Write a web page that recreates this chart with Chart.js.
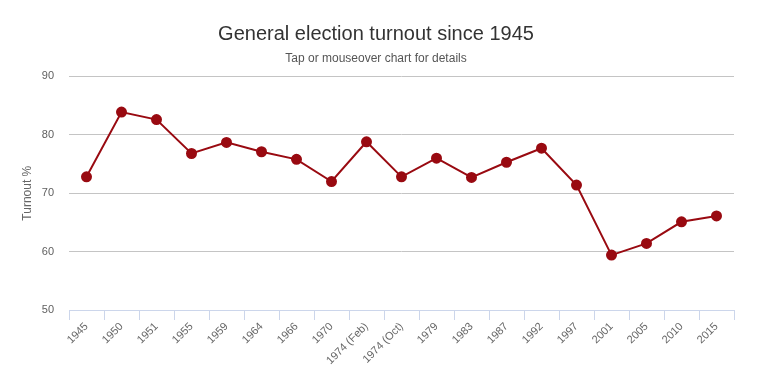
<!DOCTYPE html>
<html><head><meta charset="utf-8">
<script src="https://cdn.jsdelivr.net/npm/chart.js@4/dist/chart.umd.min.js"></script>
<style>html,body{margin:0;padding:0;background:#fff}#wrap{width:769px;height:379px}</style>
</head><body><div id="wrap"><canvas id="c" width="769" height="379"></canvas></div>
<script>
const categories = ["1945","1950","1951","1955","1959","1964","1966","1970","1974 (Feb)","1974 (Oct)","1979","1983","1987","1992","1997","2001","2005","2010","2015"];
const turnout = [72.8,83.9,82.6,76.8,78.7,77.1,75.8,72.0,78.8,72.8,76.0,72.7,75.3,77.7,71.4,59.4,61.4,65.1,66.1];
const yTicks = [50,60,70,80,90];
const FONT = "'Liberation Sans', Arial, Helvetica, sans-serif";

new Chart(document.getElementById('c'), {
  type: 'line',
  data: { labels: categories, datasets: [{
    label: 'Turnout %', data: turnout,
    borderColor: '#990a11', backgroundColor: '#990a11',
    borderWidth: 2, pointRadius: 4.5, pointHoverRadius: 5, tension: 0
  }]},
  options: {
    responsive: false, animation: false,
    layout: { padding: { left: 18, right: 35, top: 0, bottom: 0 } },
    plugins: {
      legend: { display: false },
      title: { display: true, text: 'General election turnout since 1945', color: '#333333',
        font: { family: FONT, size: 20, weight: 'normal' }, padding: { top: 22, bottom: 3 } },
      subtitle: { display: true, text: 'Tap or mouseover chart for details', color: '#555555',
        font: { family: FONT, size: 12, weight: 'normal' }, padding: { top: 2, bottom: 11 } }
    },
    scales: {
      x: {
        offset: true,
        grid: { offset: true, drawOnChartArea: false, drawTicks: true, tickLength: 10, color: '#ccd6eb' },
        border: { display: true, color: '#ccd6eb', width: 1 },
        ticks: { color: '#666666', font: { family: FONT, size: 11 }, minRotation: 45, maxRotation: 45, padding: 0, autoSkip: false },
        afterFit: s => { s.height = 69; }
      },
      y: {
        min: 50, max: 90,
        afterBuildTicks: s => { s.ticks = yTicks.map(v => ({ value: v })); },
        grid: { color: '#c4c4c4', drawTicks: false, lineWidth: 1 },
        border: { display: false },
        ticks: { color: '#606060', font: { family: FONT, size: 11 }, padding: 15 },
        title: { display: true, text: 'Turnout %', color: '#666666', font: { family: FONT, size: 12 }, padding: { top: 2, bottom: 0 } },
        afterFit: s => { s.width = 51; }
      }
    }
  }
});
</script></body></html>
